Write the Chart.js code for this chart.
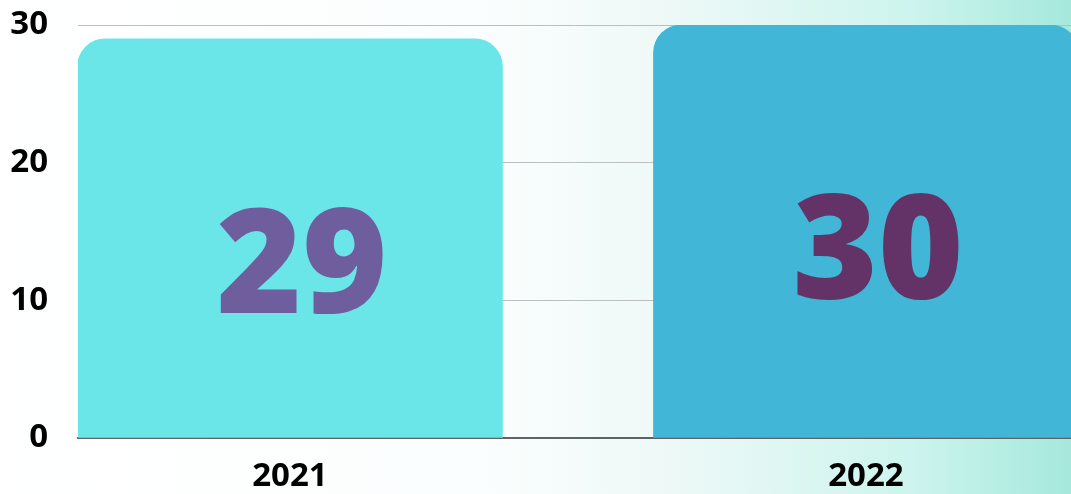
<!DOCTYPE html>
<html>
<head>
<meta charset="utf-8">
<script src="https://cdn.jsdelivr.net/npm/chart.js@4.4.0/dist/chart.umd.min.js"></script>
<style>
  html, body { margin: 0; padding: 0; background: #fff; overflow: hidden; }
  #wrap { width: 1071px; height: 494px; }
</style>
</head>
<body>
<div id="wrap"><canvas id="bars"></canvas></div>
<script>
// data
var years = ['2021', '2022'];
var counts = [29, 30];
var barColors = ['#6ae6e9', '#42b6d6'];
var labelColors = ['#6f5e9e', '#633368'];
var yTicks = [0, 10, 20, 30];

// background wash, white on the left fading to mint on the right
var bgPlugin = {
  id: 'bg',
  beforeDraw: function(chart) {
    var c = chart.ctx;
    var g = c.createLinearGradient(0, 0, chart.width, 0);
    g.addColorStop(0, '#ffffff');
    g.addColorStop(0.45, '#fbfefe');
    g.addColorStop(0.62, '#eef9f7');
    g.addColorStop(0.85, '#cdf4ee');
    g.addColorStop(1, '#a5e9dc');
    c.save();
    c.fillStyle = g;
    c.fillRect(0, 0, chart.width, chart.height);
    c.restore();
  }
};

// big numbers inside each bar, hung from the bar top
var bigLabels = {
  id: 'bigLabels',
  afterDatasetsDraw: function(chart) {
    var c = chart.ctx;
    var meta = chart.getDatasetMeta(0);
    c.save();
    c.font = '800 146px "Open Sans"';
    c.textAlign = 'center';
    c.textBaseline = 'alphabetic';
    meta.data.forEach(function(bar, i) {
      c.fillStyle = labelColors[i];
      c.fillText(String(counts[i]), bar.x + 12, bar.y + 274);
    });
    c.restore();
  }
};

var ctx = document.getElementById('bars').getContext('2d');
var chart = new Chart(ctx, {
  type: 'bar',
  data: {
    datasets: [{
      data: counts.map(function(v, i) { return { x: i, y: v }; }),
      backgroundColor: barColors,
      borderWidth: 0,
      borderSkipped: 'bottom',
      borderRadius: { topLeft: 28, topRight: 28, bottomLeft: 0, bottomRight: 0 },
      barThickness: 425
    }]
  },
  options: {
    responsive: true,
    maintainAspectRatio: false,
    animation: false,
    layout: { padding: 0 },
    plugins: { legend: { display: false }, tooltip: { enabled: false } },
    scales: {
      x: {
        type: 'linear',
        offset: false,
        min: -0.368,
        max: 1.356,
        grid: { display: false, drawTicks: false },
        border: { display: true, color: '#5f6363', width: 2 },
        afterBuildTicks: function(scale) {
          scale.ticks = years.map(function(y, i) { return { value: i }; });
        },
        afterFit: function(scale) { scale.height = 56; },
        ticks: {
          padding: 22,
          maxRotation: 0,
          color: '#000',
          font: { family: 'Open Sans', size: 33, weight: 'bold', lineHeight: 1 },
          callback: function(v) { return years[v]; }
        }
      },
      y: {
        min: 0,
        max: 30,
        afterBuildTicks: function(scale) {
          scale.ticks = yTicks.map(function(v) { return { value: v }; });
        },
        afterFit: function(scale) {
          scale.width = 78;
          scale.paddingTop = 25;
          scale.paddingBottom = 0;
        },
        grid: { color: '#bcbfbf', lineWidth: 1, drawTicks: false },
        border: { display: false },
        ticks: {
          padding: 30,
          color: '#000',
          font: { family: 'Open Sans', size: 33, weight: 'bold', lineHeight: 1 }
        }
      }
    }
  },
  plugins: [bgPlugin, bigLabels]
});
</script>
</body>
</html>
